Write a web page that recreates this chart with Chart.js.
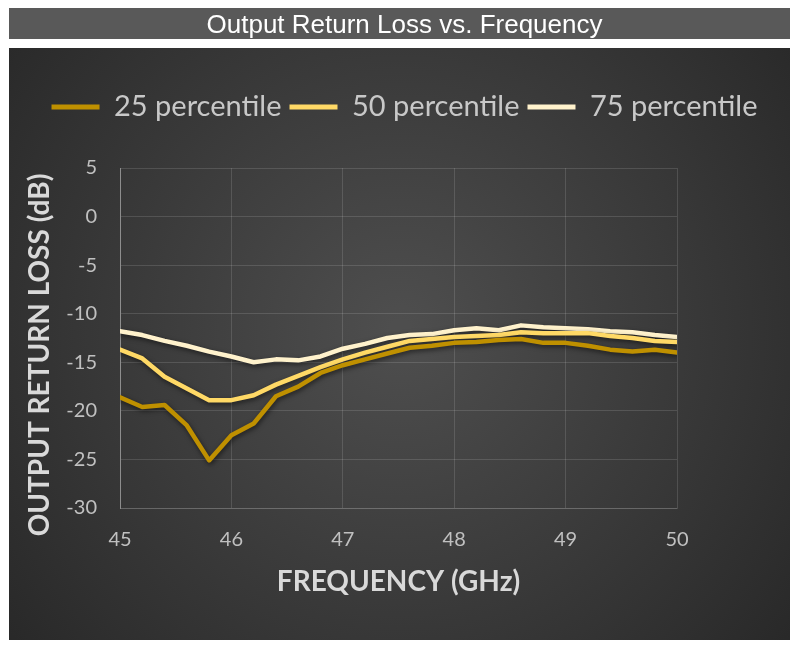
<!DOCTYPE html>
<html>
<head>
<meta charset="utf-8">
<script src="https://cdn.jsdelivr.net/npm/chart.js@4.4.1/dist/chart.umd.min.js"></script>
<style>
html,body{margin:0;padding:0;background:#fff;}
#wrap{position:absolute;left:0;top:0;width:799px;height:646px;}
</style>
</head>
<body>
<div id="wrap"><canvas id="c" width="799" height="646"></canvas></div>
<script>
// ---- data ----
const chartTitle = 'Output Return Loss vs. Frequency';
const freqGHz = [45.0,45.2,45.4,45.6,45.8,46.0,46.2,46.4,46.6,46.8,47.0,47.2,47.4,47.6,47.8,48.0,48.2,48.4,48.6,48.8,49.0,49.2,49.4,49.6,49.8,50.0];
const p25 = [-18.6,-19.6,-19.4,-21.5,-25.1,-22.5,-21.3,-18.5,-17.5,-16.1,-15.3,-14.7,-14.1,-13.5,-13.3,-13.0,-12.9,-12.7,-12.6,-13.0,-13.0,-13.3,-13.7,-13.9,-13.7,-14.0];
const p50 = [-13.7,-14.6,-16.5,-17.7,-18.9,-18.9,-18.4,-17.3,-16.4,-15.5,-14.7,-14.0,-13.4,-12.8,-12.6,-12.4,-12.3,-12.2,-11.9,-12.0,-12.0,-12.0,-12.3,-12.5,-12.8,-12.9];
const p75 = [-11.8,-12.2,-12.8,-13.3,-13.9,-14.4,-15.0,-14.7,-14.8,-14.4,-13.6,-13.1,-12.5,-12.2,-12.1,-11.7,-11.5,-11.7,-11.2,-11.4,-11.5,-11.6,-11.8,-11.9,-12.2,-12.4];
const seriesNames = ['25 percentile','50 percentile','75 percentile'];
const seriesColors = ['#BF9000','#FFD966','#FFF2CC'];
const xTitle = 'FREQUENCY (GHz)';
const yTitle = 'OUTPUT RETURN LOSS (dB)';

const toPts = arr => arr.map((v,i)=>({x:freqGHz[i], y:v}));

const bgPlugin = {
  id:'bg',
  beforeDraw(chart){
    const ctx = chart.ctx;
    ctx.save();
    ctx.fillStyle = '#ffffff';
    ctx.fillRect(0,0,chart.width,chart.height);
    ctx.fillStyle = '#595959';
    ctx.fillRect(9,8,781,31);
    const g = ctx.createRadialGradient(400,330,10,400,330,560);
    g.addColorStop(0,'#4e4e4e');
    g.addColorStop(1,'#242424');
    ctx.fillStyle = g;
    ctx.fillRect(9,48,781,592);
    ctx.restore();
  }
};
const shadowPlugin = {
  id:'shadow',
  beforeDatasetsDraw(chart){
    const ctx = chart.ctx;
    ctx.save();
    ctx.shadowColor = 'rgba(0,0,0,0.55)';
    ctx.shadowBlur = 5;
    ctx.shadowOffsetX = 1;
    ctx.shadowOffsetY = 2;
  },
  afterDatasetsDraw(chart){ chart.ctx.restore(); }
};
// y-axis title, placed where the reference has it (slightly below the axis centre)
const yTitlePlugin = {
  id:'yTitle',
  afterDraw(chart){
    const ctx = chart.ctx;
    const a = chart.chartArea;
    ctx.save();
    ctx.translate(40, (a.top + a.bottom)/2 + 17);
    ctx.rotate(-Math.PI/2);
    ctx.fillStyle = '#d9d9d9';
    ctx.font = 'bold 28px Lato, sans-serif';
    ctx.textAlign = 'center';
    ctx.textBaseline = 'middle';
    ctx.fillText(yTitle, 0, 0);
    ctx.restore();
  }
};

new Chart(document.getElementById('c'), {
  type:'line',
  data:{
    datasets:[
      {label:seriesNames[0], data:toPts(p25), borderColor:seriesColors[0], backgroundColor:seriesColors[0]},
      {label:seriesNames[1], data:toPts(p50), borderColor:seriesColors[1], backgroundColor:seriesColors[1]},
      {label:seriesNames[2], data:toPts(p75), borderColor:seriesColors[2], backgroundColor:seriesColors[2]}
    ]
  },
  options:{
    responsive:false,
    animation:false,
    devicePixelRatio:1,
    layout:{padding:{left:10, right:0, top:0, bottom:0}},
    elements:{
      line:{borderWidth:4.5, tension:0, borderJoinStyle:'round', borderCapStyle:'round'},
      point:{radius:0, hoverRadius:0}
    },
    plugins:{
      tooltip:{enabled:false},
      title:{display:true, text:chartTitle, color:'#ffffff',
        font:{family:'"Liberation Sans", Arial, sans-serif', size:26, weight:'normal', lineHeight:1.2},
        padding:{top:10.4, bottom:42.9}},
      subtitle:{display:true, text:'', weight:500, font:{size:1, lineHeight:1}, padding:{top:0,bottom:35.5}},
      legend:{display:true, position:'top',
        labels:{color:'#c8c8c8', font:{family:'Lato, "Open Sans", sans-serif', size:29}, boxWidth:48, boxHeight:5, padding:8,
          generateLabels(chart){
            return Chart.defaults.plugins.legend.labels.generateLabels(chart).map(l=>Object.assign(l,{lineWidth:0, fillStyle:l.strokeStyle}));
          }}}
    },
    scales:{
      x:{type:'linear', min:45, max:50,
        ticks:{stepSize:1, color:'#c0c0c0', padding:20, font:{family:'Lato, sans-serif', size:20}},
        grid:{color:'rgba(255,255,255,0.13)', lineWidth:1, drawTicks:false},
        border:{color:'rgba(255,255,255,0.13)'},
        title:{display:true, text:xTitle, color:'#d9d9d9', font:{family:'Lato, sans-serif', size:28, weight:'bold', lineHeight:1.2}, padding:{top:13, bottom:47}},
        afterFit(s){ s.height = 138; }
      },
      y:{type:'linear', min:-30, max:5, position:'left',
        ticks:{stepSize:5, color:'#c0c0c0', padding:23, font:{family:'Lato, sans-serif', size:20}},
        grid:{color:'rgba(255,255,255,0.13)', lineWidth:1, drawTicks:false},
        border:{color:'rgba(255,255,255,0.35)'},
        afterFit(s){ s.width = 110; }
      },
      yPad:{type:'linear', position:'right', display:true,
        ticks:{display:false}, grid:{display:false}, border:{display:false},
        afterFit(s){ s.width = 122; }
      }
    }
  },
  plugins:[bgPlugin, shadowPlugin, yTitlePlugin]
});
</script>
</body>
</html>
